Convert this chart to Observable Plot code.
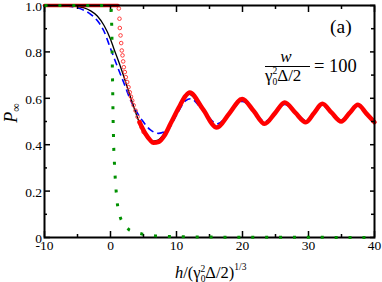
<!DOCTYPE html>
<html><head><meta charset="utf-8">
<script src="https://cdn.jsdelivr.net/npm/d3@7"></script>
<script src="https://cdn.jsdelivr.net/npm/@observablehq/plot@0.6"></script>
<style>body{margin:0;background:#fff} #chart{width:382px;height:282px}</style>
</head><body><div id="chart"></div>
<script>
// Tick values
const xTicks = [-10, 0, 10, 20, 30, 40];
const xMinor = [-5, 5, 15, 25, 35];
const yTicks = [0, 0.2, 0.4, 0.6, 0.8, 1.0];
const yMinor = [0.1, 0.3, 0.5, 0.7, 0.9];

// Black solid curve
const blackX = [-10,-6,-5,-4,-3,-2,-1,0,0.5,1.5,2.5,3.5,4.8,5.7,6.3,7.2,8,9,10.2,11.2,11.9,14,16,18,19.9,21.7,23.3,24.9,26.4,28,29.6,30.85,32.1,33.5,34.95,36.2,37.5,38.75,40];
const blackP = [1,0.999,0.996,0.99,0.977,0.955,0.915,0.855,0.815,0.737,0.652,0.565,0.465,0.425,0.415,0.42,0.443,0.485,0.555,0.603,0.617,0.55,0.477,0.535,0.594,0.545,0.492,0.537,0.579,0.538,0.498,0.537,0.574,0.538,0.502,0.536,0.57,0.535,0.5];

// Blue dashed curve
const blueX = [-10,-7,-6,-5,-4,-3,-2,-1,0,1,2,3,4,4.8,6,7.3,8.8,10.1,11.4,12.1,14.1,16.2,18.1,20,21.7,23.4,24.9,26.4,28,29.6,30.85,32.1,33.5,34.95,36.2,37.5,38.75,40];
const blueP = [1,0.999,0.996,0.99,0.979,0.962,0.935,0.89,0.815,0.74,0.668,0.595,0.54,0.505,0.465,0.449,0.468,0.533,0.59,0.598,0.545,0.49,0.54,0.586,0.543,0.5,0.536,0.573,0.54,0.505,0.537,0.568,0.538,0.507,0.536,0.564,0.535,0.505];

// Red: flat part, open circles on the steep drop, dense (thick) part
const redTopX = [-10, 1.15];
const redTopP = [1, 1];
const redCircX = [1.26,1.36,1.41,1.52,1.62,1.71,1.82,1.92,2.02,2.17,2.32,2.53,2.73,2.92,3.1,3.29,3.5,3.79,4.1,4.4,4.7,5.0];
const redCircP = [0.987,0.943,0.903,0.871,0.838,0.806,0.785,0.759,0.734,0.713,0.691,0.67,0.648,0.626,0.607,0.59,0.57,0.547,0.52,0.497,0.475,0.455];
const redX = [4.4,5.3,6.06,6.5,7.32,8.08,9.09,10.35,11.36,12,14,16.1,18,19.95,21.7,23.35,24.9,26.4,28,29.6,30.85,32.1,33.5,34.95,36.2,37.5,38.75,40];
const redP = [0.497,0.447,0.418,0.408,0.412,0.435,0.49,0.56,0.61,0.625,0.553,0.474,0.535,0.597,0.545,0.49,0.535,0.582,0.538,0.497,0.537,0.576,0.538,0.5,0.536,0.572,0.535,0.497];

// Green dotted curve
const greenX = [-10,0,0.1,0.2,0.3,0.4,0.5,0.6,0.71,0.86,1.06,1.3,1.56,2,2.83,3.8,4.8,6.8,9,13,20,40];
const greenP = [1,1,0.99,0.9,0.7,0.5,0.38,0.318,0.259,0.199,0.14,0.105,0.08,0.055,0.033,0.022,0.015,0.007,0.004,0.002,0.001,0.0003];

const zip = (xs, ys) => xs.map((x, i) => ({x, y: ys[i]}));
const black = zip(blackX, blackP), blue = zip(blueX, blueP);
const redTop = zip(redTopX, redTopP), redCirc = zip(redCircX, redCircP), red = zip(redX, redP);
const green = zip(greenX, greenP);

const serif = "Liberation Serif";
const tickStyle = {strokeWidth: 1.5, label: null, text: null};
const plot = Plot.plot({
  width: 382, height: 282,
  marginLeft: 44, marginRight: 8, marginTop: 5, marginBottom: 45,
  x: {domain: [-10, 40]},
  y: {domain: [0, 1]},
  style: {fontFamily: serif, fontSize: "13.5px", background: "#fff", color: "#000"},
  marks: [
    Plot.line(blue, {x: "x", y: "y", stroke: "#0000ff", strokeWidth: 1.6, strokeDasharray: "7,4", strokeLinecap: "butt", curve: "monotone-x"}),
    Plot.line(black, {x: "x", y: "y", stroke: "#000", strokeWidth: 1.3, curve: "monotone-x"}),
    Plot.line(redTop, {x: "x", y: "y", stroke: "#ff0000", strokeWidth: 3.5}),
    Plot.dot(redCirc, {x: "x", y: "y", r: 1.8, stroke: "#ff2a2a", strokeWidth: 0.9, fill: "none"}),
    Plot.line(red, {x: "x", y: "y", stroke: "#ff0000", strokeWidth: 4.5, curve: "monotone-x"}),
    Plot.frame({stroke: "#000", strokeWidth: 2}),
    Plot.axisX(xTicks, {anchor: "bottom", tickSize: 0, tickPadding: 3, tickFormat: d => String(d), label: null}),
    Plot.axisY(yTicks, {anchor: "left", tickSize: 0, tickPadding: 2.5, dy: 1.2, tickFormat: d => d === 0 ? "0" : d.toFixed(1), label: null}),
    Plot.axisX(xTicks, {anchor: "bottom", tickSize: -6, ...tickStyle}),
    Plot.axisX(xMinor, {anchor: "bottom", tickSize: -3, ...tickStyle}),
    Plot.axisX(xTicks, {anchor: "top", tickSize: -6, ...tickStyle}),
    Plot.axisX(xMinor, {anchor: "top", tickSize: -3, ...tickStyle}),
    Plot.axisY(yTicks, {anchor: "left", tickSize: -6, ...tickStyle}),
    Plot.axisY(yMinor, {anchor: "left", tickSize: -3, ...tickStyle}),
    Plot.axisY(yTicks, {anchor: "right", tickSize: -5, ...tickStyle}),
    Plot.axisY(yMinor, {anchor: "right", tickSize: -4, ...tickStyle}),
    Plot.line(green, {x: "x", y: "y", stroke: "#009000", strokeWidth: 3, strokeDasharray: "3,10.9", strokeLinecap: "butt"})
  ]
});

const svg = d3.select(plot);
const T = (sel, f = serif) => sel.attr("font-family", f).attr("fill", "#000");

// y-axis label P∞
const yl = T(svg.append("text")).attr("transform", "translate(17,113) rotate(-90)").attr("text-anchor", "middle");
yl.append("tspan").attr("font-style", "italic").attr("font-size", 18).text("P");
yl.append("tspan").attr("font-size", 12).attr("dy", 3).text("∞");

// x-axis label h/(γ0²Δ/2)^(1/3)
const xl = T(svg.append("text")).attr("x", 175).attr("y", 277.5).attr("text-anchor", "start").attr("font-size", 16.5);
xl.append("tspan").attr("font-style", "italic").text("h");
xl.append("tspan").text("/(γ");
xl.append("tspan").attr("font-size", 9.5).attr("dy", 4).text("0");
xl.append("tspan").attr("font-size", 9.5).attr("dx", -4.8).attr("dy", -10).text("2");
xl.append("tspan").attr("dy", 6).text("Δ/2)");
xl.append("tspan").attr("font-size", 9.5).attr("dy", -8).text("1/3");

// (a)
T(svg.append("text")).attr("x", 330).attr("y", 33).attr("text-anchor", "start").attr("font-size", 19.5).text("(a)");

// fraction w / (γ0²Δ/2) = 100
T(svg.append("text")).attr("x", 286).attr("y", 62).attr("text-anchor", "middle")
  .attr("font-size", 17).attr("font-style", "italic").text("w");
svg.append("line").attr("x1", 265).attr("x2", 310).attr("y1", 66.5).attr("y2", 66.5).attr("stroke", "#000").attr("stroke-width", 1);
const den = T(svg.append("text")).attr("x", 265).attr("y", 81).attr("text-anchor", "start").attr("font-size", 17);
den.append("tspan").text("γ");
den.append("tspan").attr("font-size", 9.5).attr("dy", 4).text("0");
den.append("tspan").attr("font-size", 9.5).attr("dx", -4.8).attr("dy", -11).text("2");
den.append("tspan").attr("dy", 7).text("Δ/2");
T(svg.append("text")).attr("x", 314).attr("y", 72).attr("text-anchor", "start").attr("font-size", 18.5).text("= 100");

document.getElementById("chart").appendChild(plot);
</script>
</body></html>
